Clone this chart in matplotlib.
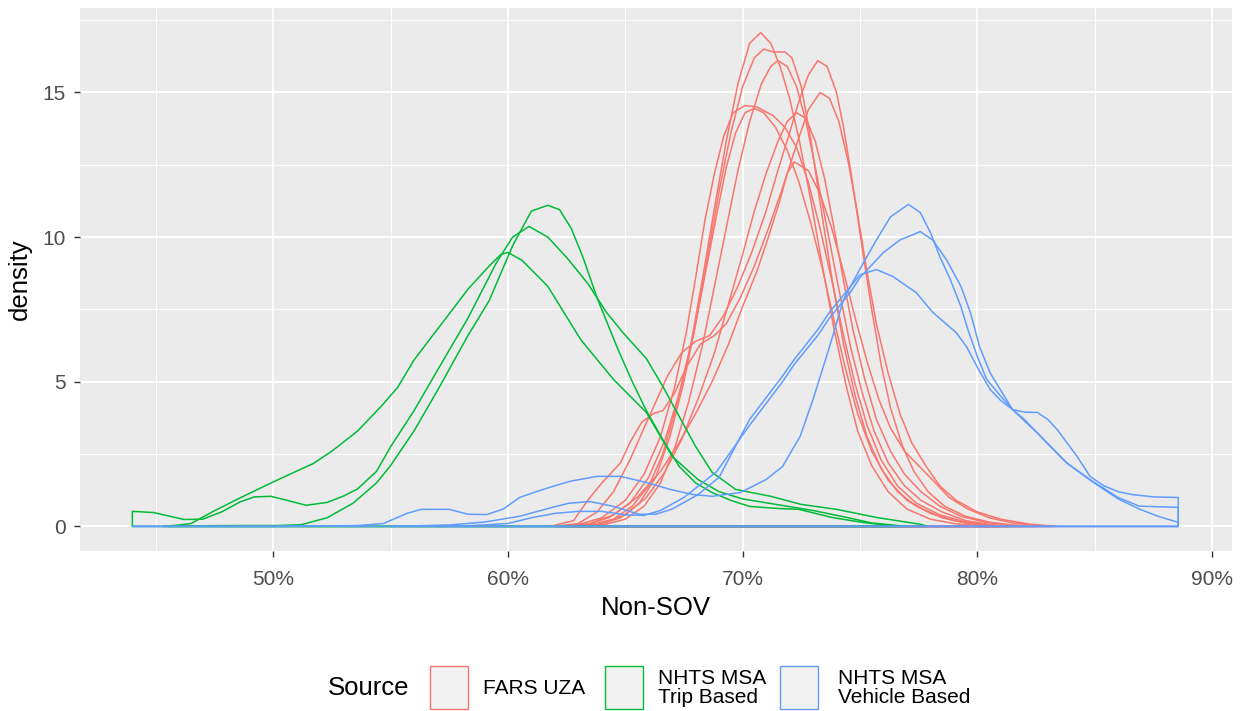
import matplotlib
matplotlib.use("Agg")
import matplotlib.pyplot as plt
from matplotlib.patches import Rectangle
from matplotlib.ticker import FixedLocator, FuncFormatter

plt.rcParams['font.family'] = ['Liberation Sans', 'DejaVu Sans']

# ---- data: density outlines (x in %, y = density) ----
fars_1 = [(62.5, 0.0), (63.5, 0.05), (64.5, 0.25), (65.3, 0.7), (66.0, 1.4), (66.6, 2.5), (67.2, 4.2),
          (67.8, 6.3), (68.3, 8.6), (68.8, 11.0), (69.3, 13.3), (69.8, 15.3), (70.3, 16.7), (70.77, 17.07),
          (71.2, 16.7), (71.6, 15.9), (72.0, 14.8), (72.4, 13.4), (72.9, 11.3), (73.4, 9.0), (73.9, 6.8),
          (74.4, 4.9), (74.9, 3.3), (75.5, 2.1), (76.2, 1.2), (77.0, 0.6), (78.0, 0.25), (79.0, 0.1),
          (80.0, 0.03), (80.8, 0.0)]
fars_2 = [(62.8, 0.0), (63.8, 0.05), (64.8, 0.3), (65.6, 0.8), (66.3, 1.7), (66.9, 3.1), (67.5, 5.0),
          (68.0, 7.0), (68.5, 9.3), (69.0, 11.6), (69.5, 13.6), (70.0, 15.2), (70.5, 16.2), (70.9, 16.5),
          (71.3, 16.4), (71.8, 16.4), (72.1, 16.2), (72.5, 15.2), (72.9, 13.4), (73.3, 11.2), (73.8, 8.6),
          (74.3, 6.3), (74.8, 4.5), (75.3, 3.1), (75.9, 2.0), (76.6, 1.2), (77.4, 0.7), (78.5, 0.3),
          (79.5, 0.12), (80.5, 0.04), (81.2, 0.0)]
fars_3 = [(63.0, 0.0), (64.0, 0.04), (65.0, 0.25), (65.8, 0.7), (66.5, 1.5), (67.1, 2.7), (67.7, 4.3),
          (68.3, 6.3), (68.8, 8.3), (69.3, 10.3), (69.8, 12.3), (70.3, 14.0), (70.8, 15.3), (71.2, 15.9),
          (71.5, 16.1), (71.9, 15.9), (72.3, 15.2), (72.7, 14.0), (73.1, 12.4), (73.6, 10.3), (74.1, 8.2),
          (74.6, 6.2), (75.1, 4.6), (75.6, 3.3), (76.2, 2.2), (76.9, 1.4), (77.6, 0.9), (78.5, 0.5),
          (79.5, 0.2), (80.5, 0.07), (81.5, 0.0)]
fars_4 = [(62.0, 0.0), (63.0, 0.1), (63.8, 0.5), (64.5, 1.2), (65.2, 2.3), (65.8, 3.4), (66.3, 4.3),
          (66.8, 5.2), (67.4, 6.0), (68.0, 6.4), (68.6, 6.6), (69.2, 7.3), (69.8, 8.3), (70.4, 9.5),
          (71.0, 10.9), (71.5, 12.3), (72.0, 13.6), (72.4, 14.7), (72.8, 15.6), (73.2, 16.1), (73.6, 15.9),
          (74.0, 15.0), (74.3, 13.8), (74.7, 11.8), (75.1, 9.6), (75.5, 7.5), (75.9, 5.6), (76.3, 4.1),
          (76.8, 2.8), (77.3, 1.9), (77.9, 1.2), (78.6, 0.7), (79.5, 0.35), (80.5, 0.15), (81.5, 0.05),
          (82.5, 0.0)]
fars_5 = [(61.8, 0.0), (62.8, 0.2), (63.4, 0.9), (64.0, 1.5), (64.8, 2.2), (65.2, 2.9), (65.7, 3.6),
          (66.2, 3.9), (66.6, 4.0), (67.1, 4.6), (67.6, 5.5), (68.2, 6.3), (68.8, 6.6), (69.3, 7.0),
          (69.9, 7.9), (70.5, 9.0), (71.1, 10.3), (71.7, 11.7), (72.3, 13.2), (72.8, 14.4), (73.3, 15.0),
          (73.7, 14.8), (74.1, 14.0), (74.5, 12.6), (74.9, 10.8), (75.3, 8.8), (75.7, 7.0), (76.2, 5.3),
          (76.7, 3.9), (77.2, 2.9), (77.8, 2.1), (78.4, 1.4), (79.1, 0.9), (80.0, 0.5), (81.0, 0.25),
          (82.2, 0.08), (83.4, 0.0)]
fars_6 = [(62.0, 0.0), (63.0, 0.06), (64.0, 0.3), (65.0, 0.9), (65.8, 1.8), (66.5, 3.1), (67.1, 4.8),
          (67.6, 6.7), (68.0, 8.6), (68.4, 10.6), (68.8, 12.2), (69.2, 13.5), (69.6, 14.3), (70.1, 14.55),
          (70.6, 14.5), (71.3, 14.2), (71.8, 13.8), (72.3, 13.1), (72.8, 11.9), (73.3, 10.3), (73.8, 8.5),
          (74.3, 6.6), (74.8, 4.9), (75.3, 3.5), (75.9, 2.3), (76.6, 1.4), (77.4, 0.8), (78.4, 0.4),
          (79.5, 0.15), (80.5, 0.05), (81.3, 0.0)]
fars_7 = [(62.3, 0.0), (63.3, 0.05), (64.3, 0.3), (65.2, 0.8), (66.0, 1.7), (66.7, 3.0), (67.3, 4.6),
          (67.9, 6.6), (68.4, 8.7), (68.9, 10.8), (69.3, 12.4), (69.7, 13.6), (70.1, 14.3), (70.5, 14.45),
          (70.9, 14.3), (71.4, 13.8), (71.9, 13.0), (72.4, 11.9), (72.9, 10.5), (73.4, 8.9), (73.9, 7.1),
          (74.4, 5.4), (74.9, 3.9), (75.5, 2.6), (76.2, 1.6), (77.0, 0.9), (78.0, 0.45), (79.0, 0.2),
          (80.0, 0.07), (81.0, 0.0)]
fars_8 = [(63.0, 0.0), (64.0, 0.08), (65.0, 0.4), (65.9, 1.0), (66.7, 1.9), (67.4, 3.0), (68.1, 4.4),
          (68.8, 6.0), (69.4, 7.7), (70.0, 9.4), (70.5, 10.9), (71.0, 12.2), (71.5, 13.3), (71.9, 14.0),
          (72.3, 14.3), (72.7, 14.1), (73.1, 13.3), (73.5, 12.0), (73.9, 10.3), (74.3, 8.5), (74.7, 6.8),
          (75.2, 5.1), (75.7, 3.7), (76.3, 2.6), (76.9, 1.8), (77.6, 1.2), (78.4, 0.7), (79.3, 0.35),
          (80.3, 0.15), (81.3, 0.05), (82.0, 0.0)]
fars_9 = [(62.5, 0.0), (63.5, 0.1), (64.5, 0.4), (65.5, 1.0), (66.5, 1.9), (67.3, 2.9), (68.0, 3.9),
          (68.7, 5.0), (69.4, 6.3), (70.0, 7.6), (70.6, 8.8), (71.1, 10.0), (71.6, 11.3), (71.9, 12.2),
          (72.2, 12.6), (72.8, 12.3), (73.3, 11.5), (73.8, 10.3), (74.3, 8.8), (74.8, 7.2), (75.3, 5.7),
          (75.8, 4.4), (76.3, 3.4), (76.9, 2.6), (77.5, 2.1), (78.1, 1.6), (78.8, 1.0), (79.6, 0.6),
          (80.5, 0.3), (81.5, 0.12), (82.5, 0.03), (83.2, 0.0)]

trip_1 = [(45.5, 0.0), (46.5, 0.02), (48.5, 0.03), (50.2, 0.03), (51.2, 0.06), (52.3, 0.3), (53.4, 0.8),
          (54.4, 1.5), (55.0, 2.1), (56.0, 3.3), (57.0, 4.7), (58.3, 6.6), (59.2, 7.8), (60.2, 9.7),
          (61.0, 10.9), (61.7, 11.1), (62.2, 10.95), (62.7, 10.3), (63.2, 9.3), (63.8, 7.9), (64.7, 6.1),
          (65.3, 5.0), (65.9, 4.0), (66.6, 3.0), (67.3, 2.07), (68.0, 1.5), (68.7, 1.17), (69.5, 0.9),
          (70.3, 0.69), (71.5, 0.62), (72.4, 0.59), (73.8, 0.31), (75.1, 0.14), (76.0, 0.05), (76.5, 0.0)]
trip_2 = [(44.0, 0.52), (44.9, 0.48), (45.6, 0.35), (46.2, 0.24), (47.0, 0.25), (47.8, 0.5), (48.6, 0.85),
          (49.2, 1.02), (49.9, 1.04), (50.6, 0.9), (51.4, 0.73), (52.3, 0.83), (53.0, 1.05), (53.6, 1.3),
          (54.4, 1.9), (55.0, 2.75), (56.0, 4.0), (57.0, 5.4), (58.3, 7.2), (59.5, 9.1), (60.2, 10.0),
          (60.9, 10.37), (61.7, 10.0), (62.5, 9.3), (63.4, 8.4), (64.2, 7.4), (64.9, 6.7), (65.9, 5.8),
          (66.6, 4.84), (67.3, 3.8), (68.0, 2.76), (68.7, 1.87), (69.7, 1.28), (71.2, 1.04), (72.5, 0.76),
          (74.0, 0.59), (75.7, 0.31), (77.6, 0.07), (77.9, 0.0)]
trip_3 = [(45.3, 0.0), (46.0, 0.05), (46.5, 0.1), (47.4, 0.5), (48.5, 0.95), (49.7, 1.42), (50.7, 1.8),
          (51.7, 2.17), (52.5, 2.6), (53.6, 3.3), (54.6, 4.15), (55.3, 4.8), (56.0, 5.75), (56.7, 6.5),
          (57.4, 7.24), (58.3, 8.2), (59.2, 9.0), (59.7, 9.4), (60.0, 9.47), (60.6, 9.2), (61.7, 8.3),
          (63.1, 6.46), (64.5, 5.08), (65.9, 3.94), (67.0, 2.42), (68.1, 1.62), (69.0, 1.2), (70.0, 0.95),
          (71.5, 0.75), (73.0, 0.55), (74.5, 0.3), (75.5, 0.12), (76.5, 0.04), (77.0, 0.0)]

vehicle_1 = [(44.0, 0.0), (50.0, 0.0), (53.6, 0.03), (54.7, 0.1), (55.7, 0.45), (56.3, 0.59), (57.5, 0.59),
             (58.3, 0.42), (59.1, 0.41), (59.8, 0.6), (60.5, 1.0), (61.2, 1.2), (61.9, 1.38), (62.65, 1.56),
             (63.8, 1.73), (64.8, 1.73), (65.9, 1.52), (66.9, 1.28), (67.9, 1.1), (68.7, 1.04), (69.9, 1.17),
             (71.0, 1.62), (71.7, 2.07), (72.45, 3.11), (73.0, 4.39), (73.7, 6.2), (74.3, 7.84), (75.0, 8.9),
             (75.7, 9.9), (76.3, 10.7), (77.06, 11.13), (77.57, 10.85), (78.0, 10.16), (78.4, 9.33),
             (78.85, 8.53), (79.3, 7.6), (79.6, 6.8), (80.0, 5.87), (80.4, 5.08), (81.0, 4.5), (81.5, 4.04),
             (82.0, 3.65), (82.6, 3.2), (83.2, 2.7), (83.8, 2.2), (84.8, 1.6), (86.0, 0.95), (86.9, 0.6),
             (87.7, 0.35), (88.56, 0.14)]
vehicle_2 = [(57.0, 0.0), (58.5, 0.03), (60.0, 0.1), (61.0, 0.3), (62.0, 0.45), (63.0, 0.52), (64.0, 0.52),
             (65.0, 0.4), (65.8, 0.38), (66.5, 0.55), (67.5, 1.0), (68.9, 1.9), (70.3, 3.5), (71.7, 5.0),
             (72.2, 5.6), (73.2, 6.6), (73.7, 7.2), (74.6, 8.1), (75.0, 8.6), (76.0, 9.47), (76.7, 9.9),
             (77.57, 10.19), (78.1, 9.9), (78.7, 9.2), (79.3, 8.3), (79.7, 7.4), (80.1, 6.2), (80.55, 5.3),
             (81.0, 4.7), (81.5, 4.04), (82.0, 3.7), (83.1, 2.77), (83.8, 2.2), (84.8, 1.62), (86.0, 1.0),
             (86.9, 0.7), (88.56, 0.66)]
vehicle_3 = [(55.0, 0.0), (57.5, 0.05), (59.0, 0.15), (60.5, 0.35), (61.9, 0.66), (62.6, 0.8), (63.5, 0.86),
             (64.5, 0.69), (65.6, 0.42), (66.3, 0.42), (67.0, 0.6), (68.1, 1.1), (69.0, 1.7), (70.3, 3.7),
             (71.7, 5.2), (72.2, 5.77), (73.2, 6.8), (73.7, 7.4), (74.6, 8.3), (75.0, 8.7), (75.7, 8.88),
             (76.4, 8.64), (77.4, 8.08), (78.1, 7.4), (79.1, 6.7), (79.55, 6.2), (80.0, 5.5), (80.55, 4.73),
             (81.0, 4.35), (81.5, 4.04), (82.0, 3.95), (82.55, 3.94), (83.0, 3.7), (83.4, 3.35), (84.25, 2.42),
             (84.8, 1.73), (85.4, 1.4), (86.0, 1.2), (86.6, 1.1), (87.5, 1.02), (88.56, 1.0)]

sources = ['FARS UZA', 'NHTS MSA\nTrip Based', 'NHTS MSA\nVehicle Based']
source_curves = [
    [fars_1, fars_2, fars_3, fars_4, fars_5, fars_6, fars_7, fars_8, fars_9],
    [trip_1, trip_2, trip_3],
    [vehicle_1, vehicle_2, vehicle_3],
]
colors = ['#F8766D', '#00BA38', '#619CFF']

x_ticks = [50, 60, 70, 80, 90]
y_ticks = [0, 5, 10, 15]

W, H = 1242, 711
fig = plt.figure(figsize=(W / 100, H / 100), dpi=100)
ax = fig.add_axes([80 / W, 1 - 551 / H, (1232 - 80) / W, (551 - 8) / H])
ax.set_facecolor('#EBEBEB')

# outlines like geom_density: polygon closed down to the baseline
for curves, col in zip(source_curves, colors):
    for pts in curves:
        xs = [p[0] for p in pts]
        ys = [p[1] for p in pts]
        xs = [xs[0]] + xs + [xs[-1]]
        ys = [0.0] + ys + [0.0]
        ax.fill(xs, ys, facecolor='none', edgecolor=col, linewidth=1.1,
                joinstyle='round', zorder=3)

ax.set_xlim(41.77, 90.85)
ax.set_ylim(-0.85, 17.92)
ax.xaxis.set_major_locator(FixedLocator(x_ticks))
ax.yaxis.set_major_locator(FixedLocator(y_ticks))
ax.xaxis.set_minor_locator(FixedLocator([45, 55, 65, 75, 85]))
ax.yaxis.set_minor_locator(FixedLocator([2.5, 7.5, 12.5, 17.5]))
ax.xaxis.set_major_formatter(FuncFormatter(lambda v, p: f"{v:.0f}%"))
ax.grid(which='major', color='white', linewidth=1.3, zorder=0)
ax.grid(which='minor', color='white', linewidth=0.65, zorder=0)
ax.set_axisbelow(True)
for s in ax.spines.values():
    s.set_visible(False)
ax.tick_params(which='major', length=4.5, width=1, color='#333333', labelcolor='#4D4D4D',
               labelsize=15)
ax.tick_params(axis='x', which='major', pad=9)
ax.tick_params(axis='y', which='major', pad=6)
ax.tick_params(which='minor', length=0)

ax.set_xlabel('Non-SOV', fontsize=18.5, color='black', labelpad=5)
ax.set_ylabel('density', fontsize=18.5, color='black', labelpad=7)

# legend at the bottom, ggplot style
fig.text(328 / W, 1 - 688 / H, 'Source', fontsize=18.5, ha='left', va='center')
key_left = [430, 605, 780]
label_left = [483, 658, 838]
for kx, lx, lab, col in zip(key_left, label_left, sources, colors):
    fig.patches.append(Rectangle((kx / W, 1 - 709 / H), 38 / W, 43 / H, transform=fig.transFigure,
                                 facecolor='#F2F2F2', edgecolor=col, linewidth=1.0))
    fig.text(lx / W, 1 - 688 / H, lab, fontsize=15, ha='left', va='center', linespacing=0.95)

fig.savefig('out.png', dpi=100)
